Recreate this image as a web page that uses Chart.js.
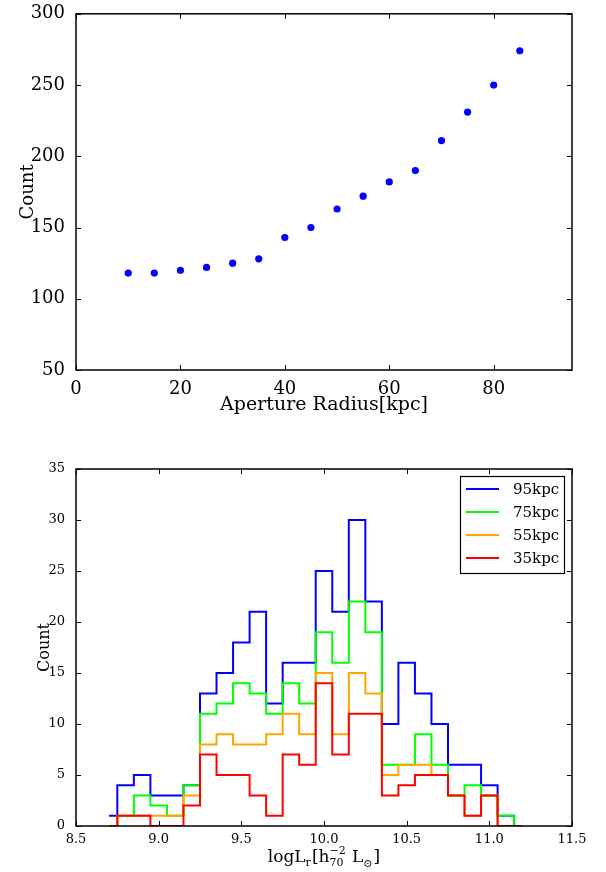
<!DOCTYPE html>
<html>
<head>
<meta charset="utf-8">
<script src="https://cdn.jsdelivr.net/npm/chart.js@4.4.1/dist/chart.umd.min.js"></script>
<style>
  html, body { margin: 0; padding: 0; background: #fff; }
  body { width: 606px; height: 872px; position: relative; overflow: hidden; }
  canvas { position: absolute; left: 0; }
  #top-chart { top: 0; }
  #hist-chart { top: 430px; }
</style>
</head>
<body>
<canvas id="top-chart" width="606" height="420"></canvas>
<canvas id="hist-chart" width="606" height="442"></canvas>
<script>
// --- painel de cima: contagem por raio de abertura
const radiusKpc = [10, 15, 20, 25, 30, 35, 40, 45, 50, 55, 60, 65, 70, 75, 80, 85];
const countByRadius = [118, 118, 120, 122, 125, 128, 143, 150, 163, 172, 182, 190, 211, 231, 250, 274];
const topXTicks = [0, 20, 40, 60, 80];
const topYTicks = [50, 100, 150, 200, 250, 300];

// --- painel de baixo: histogramas (steps-mid)
const logL = [8.7, 8.8, 8.9, 9.0, 9.1, 9.2, 9.3, 9.4, 9.5, 9.6, 9.7, 9.8, 9.9,
              10.0, 10.1, 10.2, 10.3, 10.4, 10.5, 10.6, 10.7, 10.8, 10.9, 11.0, 11.1, 11.2];
const n95 = [1, 4, 5, 3, 3, 4, 13, 15, 18, 21, 12, 16, 16, 25, 21, 30, 22, 10, 16, 13, 10, 6, 6, 4, 1, 0];
const n75 = [0, 1, 3, 2, 1, 4, 11, 12, 14, 13, 11, 14, 12, 19, 16, 22, 19, 6, 6, 9, 6, 3, 4, 3, 1, 0];
const n55 = [0, 1, 1, 1, 1, 3, 8, 9, 8, 8, 9, 11, 9, 15, 9, 15, 13, 5, 6, 6, 5, 3, 1, 3, 0, 0];
const n35 = [0, 1, 1, 0, 0, 2, 7, 5, 5, 3, 1, 7, 6, 14, 7, 11, 11, 3, 4, 5, 5, 3, 1, 3, 0, 0];
const seriesLabels = ['95kpc', '75kpc', '55kpc', '35kpc'];
const seriesColors = ['#0000ff', '#00ff00', '#ffa500', '#ff0000'];
const histXTicks = [8.5, 9.0, 9.5, 10.0, 10.5, 11.0, 11.5];
const histYTicks = [0, 5, 10, 15, 20, 25, 30, 35];

const SERIF = '"DejaVu Serif", "Liberation Serif", serif';

/**
 * Moldura estilo matplotlib: caixa preta e marcas de escala para dentro nos quatro lados.
 */
const framePlugin = {
  id: 'frame',
  afterDatasetsDraw(chart) {
    const { ctx, chartArea: a, scales } = chart;
    const len = 5;
    ctx.save();
    ctx.strokeStyle = '#000';
    ctx.lineWidth = 1;
    ctx.beginPath();
    scales.x.ticks.forEach(t => {
      const px = Math.round(scales.x.getPixelForValue(t.value)) + 0.5;
      ctx.moveTo(px, a.bottom); ctx.lineTo(px, a.bottom - len);
      ctx.moveTo(px, a.top); ctx.lineTo(px, a.top + len);
    });
    scales.y.ticks.forEach(t => {
      const py = Math.round(scales.y.getPixelForValue(t.value)) + 0.5;
      ctx.moveTo(a.left, py); ctx.lineTo(a.left + len, py);
      ctx.moveTo(a.right, py); ctx.lineTo(a.right - len, py);
    });
    ctx.stroke();
    ctx.lineWidth = 1.5;
    ctx.strokeRect(a.left, a.top, a.right - a.left, a.bottom - a.top);
    ctx.restore();
  }
};

function fixedTicks(values) {
  return scale => { scale.ticks = values.map(v => ({ value: v })); };
}

// gráfico de dispersão
new Chart(document.getElementById('top-chart'), {
  type: 'scatter',
  data: {
    datasets: [{
      data: radiusKpc.map((r, i) => ({ x: r, y: countByRadius[i] })),
      backgroundColor: '#0000ff',
      borderWidth: 0,
      pointRadius: 3.6
    }]
  },
  options: {
    responsive: false,
    animation: false,
    layout: { padding: { top: 12, right: 34, left: 0, bottom: 0 } },
    plugins: { legend: { display: false }, tooltip: { enabled: false } },
    scales: {
      x: {
        type: 'linear', min: 0, max: 95,
        afterBuildTicks: fixedTicks(topXTicks),
        afterFit: s => { s.height = 50; },
        grid: { display: false }, border: { display: false },
        ticks: { color: '#000', font: { family: SERIF, size: 18 }, padding: 1, maxRotation: 0 },
        title: { display: true, text: 'Aperture Radius[kpc]', color: '#000',
                 font: { family: SERIF, size: 19 }, padding: { top: 0, bottom: 4 } }
      },
      y: {
        type: 'linear', min: 50, max: 300,
        afterBuildTicks: fixedTicks(topYTicks),
        afterFit: s => { s.width = 76; },
        grid: { display: false }, border: { display: false },
        ticks: { color: '#000', font: { family: SERIF, size: 18 }, padding: 3 },
        title: { display: true, text: 'Count', color: '#000',
                 font: { family: SERIF, size: 18 }, padding: { top: 18, bottom: 0 } }
      }
    }
  },
  plugins: [framePlugin]
});

/**
 * Legenda dentro da área do gráfico, canto superior direito.
 */
const insideLegend = {
  id: 'insideLegend',
  afterDraw(chart) {
    const { ctx, chartArea: a } = chart;
    const w = 104, h = 97;
    const x0 = a.right - 8 - w, y0 = a.top + 7;
    ctx.save();
    ctx.fillStyle = '#fff';
    ctx.fillRect(x0, y0, w, h);
    ctx.strokeStyle = '#000';
    ctx.lineWidth = 1.2;
    ctx.strokeRect(x0 + 0.5, y0 + 0.5, w, h);
    ctx.font = '15px ' + SERIF;
    ctx.textBaseline = 'middle';
    chart.data.datasets.forEach((ds, i) => {
      const y = y0 + 13 + i * 23;
      ctx.strokeStyle = ds.borderColor;
      ctx.lineWidth = 2;
      ctx.beginPath();
      ctx.moveTo(x0 + 6, y); ctx.lineTo(x0 + 39, y);
      ctx.stroke();
      ctx.fillStyle = '#000';
      ctx.fillText(ds.label, x0 + 53, y + 1);
    });
    ctx.restore();
  }
};

/**
 * Título do eixo x com sub/sobrescritos: logL_r[h_70^-2 L_sun]
 */
const mathTitle = {
  id: 'mathTitle',
  afterDraw(chart) {
    const { ctx, chartArea: a } = chart;
    const big = '17px ' + SERIF, small = '11px ' + SERIF;
    const base = chart.height - 10;
    const parts = [
      { t: 'logL', f: big, dy: 0 },
      { t: 'r', f: small, dy: 4 },
      { t: '[h', f: big, dy: 0 },
      { t: '\u22122', f: small, dy: -8, stack: '70' },
      { t: ' L', f: big, dy: 0 },
      { t: '\u2299', f: small, dy: 5 },
      { t: ']', f: big, dy: 0 }
    ];
    ctx.save();
    let total = 0;
    parts.forEach(p => {
      ctx.font = p.f;
      p.w = ctx.measureText(p.t).width;
      if (p.stack) p.w = Math.max(p.w, ctx.measureText(p.stack).width);
      total += p.w + (p.f === small ? 1 : 0);
    });
    let x = (a.left + a.right) / 2 - total / 2;
    ctx.fillStyle = '#000';
    ctx.textBaseline = 'alphabetic';
    parts.forEach(p => {
      ctx.font = p.f;
      ctx.fillText(p.t, x, base + p.dy);
      if (p.stack) ctx.fillText(p.stack, x, base + 4);
      x += p.w + (p.f === small ? 1 : 0);
    });
    ctx.restore();
  }
};

const histSeries = [n95, n75, n55, n35];

new Chart(document.getElementById('hist-chart'), {
  type: 'line',
  data: {
    datasets: histSeries.map((vals, i) => ({
      label: seriesLabels[i],
      data: logL.map((x, j) => ({ x, y: vals[j] })),
      borderColor: seriesColors[i],
      borderWidth: 2,
      stepped: 'middle',
      pointRadius: 0,
      fill: false,
      order: histSeries.length - i
    }))
  },
  options: {
    responsive: false,
    animation: false,
    layout: { padding: { top: 39, right: 34, left: 0, bottom: 0 } },
    plugins: { legend: { display: false }, tooltip: { enabled: false } },
    scales: {
      x: {
        type: 'linear', min: 8.5, max: 11.5,
        afterBuildTicks: fixedTicks(histXTicks),
        afterFit: s => { s.height = 46; },
        grid: { display: false }, border: { display: false },
        ticks: { color: '#000', font: { family: SERIF, size: 13 }, padding: -2, maxRotation: 0,
                 callback: v => v.toFixed(1) }
      },
      y: {
        type: 'linear', min: 0, max: 35,
        afterBuildTicks: fixedTicks(histYTicks),
        afterFit: s => { s.width = 76; },
        grid: { display: false }, border: { display: false },
        ticks: { color: '#000', font: { family: SERIF, size: 13 }, padding: 3 },
        title: { display: true, text: 'Count', color: '#000',
                 font: { family: SERIF, size: 16 }, padding: { top: 35, bottom: 0 } }
      }
    }
  },
  plugins: [framePlugin, insideLegend, mathTitle]
});
</script>
</body>
</html>
